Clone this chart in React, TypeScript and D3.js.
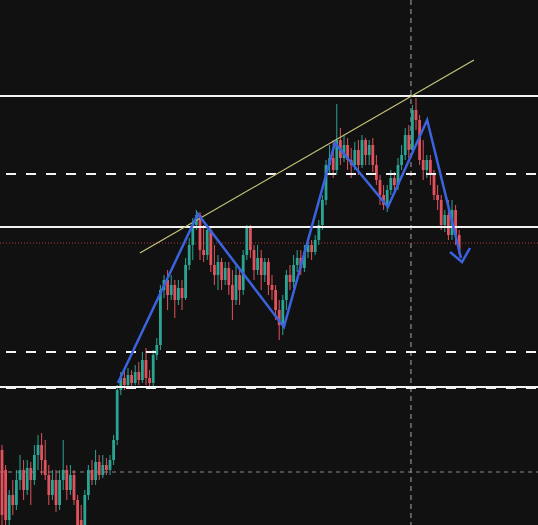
import React from "react";
import * as d3 from "d3";

const W = 538;
const H = 525;

// candles: [open, high, low, close] in price units
const candles: [number, number, number, number][] = [
  [75,80,0,10],[55,60,-5,5],[5,35,-5,30],[30,45,10,20],[20,55,15,45],[45,70,35,55],[55,65,25,35],[35,65,30,57],
  [57,63,20,45],[45,80,40,70],[70,90,55,80],[80,92,50,65],[65,85,45,50],[50,60,20,30],[30,55,25,45],[45,55,13,20],
  [20,55,15,45],[45,85,35,55],[55,60,25,35],[35,60,30,50],[50,55,20,25],[25,30,-5,0],[5,20,-10,-5],[0,35,-5,30],
  [30,60,25,55],[55,65,40,45],[45,75,40,63],[63,70,45,50],[50,70,47,60],[60,67,50,55],[55,70,50,65],[65,90,60,85],
  [85,140,80,135],[135,153,130,147],[147,155,135,140],[140,157,137,150],[150,155,137,142],[142,160,140,153],[153,163,140,145],[145,173,142,165],
  [165,177,140,147],[147,155,137,142],[142,175,139,170],[170,187,165,180],[180,240,175,235],[235,250,227,245],[245,255,215,230],[230,250,225,240],
  [240,245,207,225],[225,245,220,237],[237,245,215,227],[227,267,225,260],[260,287,255,280],[280,307,265,300],[300,315,295,310],[310,313,265,275],
  [275,300,263,270],[270,300,265,295],[295,297,253,260],[260,280,240,250],[250,270,235,263],[263,267,235,245],[245,263,240,257],[257,263,230,240],
  [240,255,205,225],[225,260,220,250],[250,257,220,235],[235,275,230,270],[270,300,265,298],[298,300,267,275],[275,280,245,255],[255,280,250,267],
  [267,275,235,250],[250,267,243,263],[263,267,230,240],[240,250,225,235],[235,240,205,215],[215,225,185,200],[200,230,190,225],[225,255,215,250],
  [250,260,235,243],[243,270,237,260],[260,275,253,267],[267,275,250,257],[257,280,253,273],[273,287,267,280],[280,285,265,273],[273,290,270,285],
  [285,305,280,300],[300,330,295,325],[325,365,320,360],[360,380,350,367],[367,385,347,355],[355,421,350,385],[385,397,360,367],[367,390,363,380],
  [380,387,355,365],[365,377,347,360],[360,383,355,375],[375,385,350,360],[360,390,357,385],[385,387,360,370],[370,385,360,380],[380,387,353,360],
  [360,370,340,345],[345,350,320,330],[330,340,315,320],[320,340,313,335],[335,355,330,347],[347,353,333,340],[340,367,335,360],[360,380,355,370],
  [370,397,365,390],[390,400,367,375],[375,420,370,415],[415,427,395,405],[405,410,360,365],[365,385,345,355],[355,370,347,365],[365,370,340,350],
  [350,355,325,330],[330,340,315,325],[325,330,295,300],[300,315,293,310],[310,325,285,290],[290,325,285,315],[315,320,280,290],[290,295,270,275],
];

const solidLevels = [429, 298, 138];
const dashedLevels = [351, 173, 137];
const redDottedLevel = 282;
const greyDashedLevel = 53;
const crosshairIndex = 113.6;

// trend line: [index, price]
const trendLine: [number, number][] = [[38.3, 272], [131.1, 465]];
// zigzag: [index, price]
const zigzag: [number, number][] = [
  [32.2, 142], [54.4, 311], [78.3, 198], [92.5, 382], [107.2, 318], [118.1, 405], [127.5, 267],
];

const UP = "#2aa593";
const DOWN = "#e2525c";

export default function App() {
  const x = d3.scaleLinear().domain([0, candles.length - 1]).range([2, 459.2]);
  const y = d3.scaleLinear().domain([0, 525]).range([525, 0]);
  const bw = 2.8;

  const zz = d3.line<[number, number]>().x((d) => x(d[0])).y((d) => y(d[1]))(zigzag) || "";
  const last = zigzag[zigzag.length - 1];
  const ex = x(last[0]);
  const ey = y(last[1]);

  return (
    <svg width={W} height={H} style={{ position: "absolute", left: 0, top: 0, background: "#111111" }}>
      <rect width={W} height={H} fill="#111111" />
      {/* grey crosshair */}
      <line x1={0} x2={W} y1={y(greyDashedLevel)} y2={y(greyDashedLevel)} stroke="#8a8a8a" strokeWidth={1} strokeDasharray="4,4" />
      <line x1={x(crosshairIndex)} x2={x(crosshairIndex)} y1={0} y2={H} stroke="#a8a8a8" strokeWidth={1} strokeDasharray="5,4" />
      {/* red dotted */}
      <line x1={0} x2={W} y1={y(redDottedLevel)} y2={y(redDottedLevel)} stroke="#b03a3a" strokeWidth={1} strokeDasharray="1,2" />
      {/* candles */}
      {candles.map((c, i) => {
        const [o, h, l, cl] = c;
        const col = cl >= o ? UP : DOWN;
        const top = y(Math.max(o, cl));
        const bot = y(Math.min(o, cl));
        return (
          <g key={i}>
            <line x1={x(i)} x2={x(i)} y1={y(h)} y2={y(l)} stroke={col} strokeWidth={1} />
            <rect x={x(i) - bw / 2} y={top} width={bw} height={Math.max(1, bot - top)} fill={col} />
          </g>
        );
      })}
      {/* levels */}
      {solidLevels.map((p, i) => (
        <line key={"s" + i} x1={0} x2={W} y1={y(p)} y2={y(p)} stroke="#f2f2f2" strokeWidth={2} />
      ))}
      {dashedLevels.map((p, i) => (
        <line key={"d" + i} x1={6} x2={W} y1={y(p)} y2={y(p)} stroke="#f2f2f2" strokeWidth={2} strokeDasharray="10,10" />
      ))}
      {/* trend line */}
      <line x1={x(trendLine[0][0])} y1={y(trendLine[0][1])} x2={x(trendLine[1][0])} y2={y(trendLine[1][1])} stroke="#c9c77a" strokeWidth={1.2} />
      {/* zigzag */}
      <path d={zz} fill="none" stroke="#3b63e0" strokeWidth={2.5} strokeLinejoin="miter" />
      <path d={`M${ex - 11},${ey - 6} L${ex + 1},${ey + 4} L${ex + 9},${ey - 10}`} fill="none" stroke="#3b63e0" strokeWidth={2.5} />
    </svg>
  );
}
